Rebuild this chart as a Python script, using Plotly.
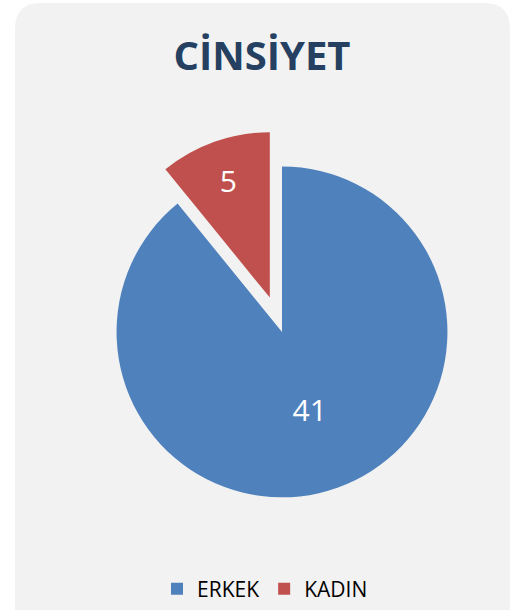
import plotly.graph_objects as go

labels = ["ERKEK", "KADIN"]
values = [41, 5]
colors = ["#4f81bd", "#c0504d"]
pulls = [0, 0.22]

W, H = 512, 610

def px_x(v):
    return v / W

def px_y(v):
    return 1 - v / H

fig = go.Figure(go.Pie(
    labels=labels,
    values=values,
    marker=dict(colors=colors, line=dict(width=0)),
    pull=pulls,
    sort=False,
    direction="clockwise",
    rotation=0,
    textinfo="value",
    textposition="inside",
    insidetextorientation="horizontal",
    textfont=dict(family="Open Sans", size=30, color="white"),
    domain=dict(x=[79.5 / W, 484.5 / W], y=[74.5 / H, 479.5 / H]),
    hoverinfo="label+value",
))

# rounded panel background
x0, x1 = px_x(15), px_x(510)
yt, yb = px_y(3), -0.05
rx, ry = 26 / W, 26 / H
path = (f"M {x0},{yb} L {x0},{yt - ry} Q {x0},{yt} {x0 + rx},{yt} "
        f"L {x1 - rx},{yt} Q {x1},{yt} {x1},{yt - ry} L {x1},{yb} Z")

fig.update_layout(
    width=W, height=H,
    margin=dict(l=0, r=0, t=0, b=0),
    paper_bgcolor="white",
    shapes=[dict(type="path", path=path, xref="paper", yref="paper",
                 fillcolor="#f2f2f2", line=dict(width=0), layer="below")],
    title=dict(text="<b>CİNSİYET</b>", x=262 / W, xanchor="center",
               y=px_y(56), yanchor="middle", xref="paper", yref="paper",
               font=dict(family="Open Sans", size=40, color="#254061")),
    showlegend=True,
    legend=dict(orientation="h", x=265 / W, xanchor="center",
                y=px_y(591), yanchor="middle",
                font=dict(family="Open Sans", size=21, color="#000000"),
                bgcolor="rgba(0,0,0,0)", traceorder="normal"),
)

fig.write_html("out.html",
               config={"displayModeBar": False},
               post_script="document.body.style.margin='0';document.body.style.overflow='hidden';")
